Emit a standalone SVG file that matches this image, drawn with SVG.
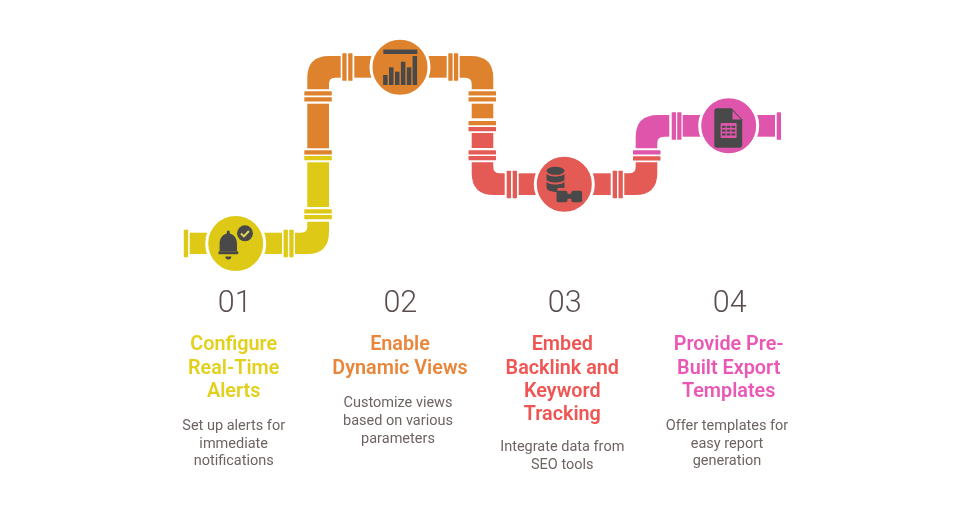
<svg xmlns="http://www.w3.org/2000/svg" width="980" height="517" viewBox="0 0 980 517">
<style>
.y{fill:#DECA14}.o{fill:#DF822E}.r{fill:#E45A55}.p{fill:#DE55AB}
.d{fill:#4A4A4A}
.ring{stroke:#fff;stroke-width:3}
.soft{filter:url(#soft)}
text{font-family:Roboto,"Liberation Sans",sans-serif;text-anchor:middle}
.n{font-size:30.5px;font-weight:300;fill:#5A4E4E}
.t{font-size:19.8px;font-weight:600}
.s{font-size:14.5px;fill:#6E6462}
.ty{fill:#E3D01C}.to{fill:#E9863A}.tr{fill:#EF5552}.tp{fill:#EA58B6}
</style>
<defs>
<filter id="soft" x="-5%" y="-5%" width="110%" height="110%"><feGaussianBlur stdDeviation="0.35"/></filter>
<g id="fv"><rect x="0" y="0" width="4.3" height="27.5" rx=".6"/></g>
<g id="fh"><rect x="0" y="0" width="27.5" height="4.3" rx=".6"/></g>
</defs>
<g id="connectors" class="soft">
<g class="y">
<use href="#fv" x="183.8" y="229.7"/>
<rect x="189.7" y="232.7" width="30" height="21.3"/>
<rect x="250" y="232.7" width="32" height="21.3"/>
<use href="#fv" x="283.6" y="229.7"/>
<use href="#fv" x="289.3" y="229.7"/>
<path d="M295 232.7H301Q307.3 232.7 307.3 227V221.7H329V232Q329 254 307 254H295Z"/>
<use href="#fh" x="304.3" y="215"/>
<use href="#fh" x="304.3" y="209.3"/>
<rect x="307.3" y="162.3" width="21.7" height="44.7"/>
<use href="#fh" x="304.3" y="155.9"/>
</g>
<g class="o">
<use href="#fh" x="304.3" y="150.3"/>
<rect x="307.3" y="103.7" width="21.7" height="44.6"/>
<use href="#fh" x="304.3" y="97.3"/>
<use href="#fh" x="304.3" y="91.3"/>
<path d="M340.7 56H329Q307.3 56 307.3 78V89.3H329V84Q329 77.7 335 77.7H340.7Z"/>
<use href="#fv" x="342.3" y="53.3"/>
<use href="#fv" x="348.2" y="53.3"/>
<rect x="354.3" y="56" width="30" height="21.7"/>
<rect x="415" y="56" width="31.7" height="21.7"/>
<use href="#fv" x="448.3" y="53.3"/>
<use href="#fv" x="453.9" y="53.3"/>
<path d="M459.7 56H471Q493.3 56 493.3 78V89.3H471.7V84Q471.7 77.7 465 77.7H459.7Z"/>
<use href="#fh" x="468.5" y="91.3"/>
<use href="#fh" x="468.5" y="97.3"/>
<rect x="471.7" y="103.7" width="21.6" height="14.6"/>
<use href="#fh" x="468.5" y="121"/>
</g>
<g class="r">
<use href="#fh" x="468.5" y="126.9"/>
<rect x="471.7" y="133" width="21.6" height="15"/>
<use href="#fh" x="468.5" y="150.3"/>
<use href="#fh" x="468.5" y="155.9"/>
<path d="M471.7 162.3H493.3V167Q493.3 173.3 500 173.3H504.7V195H494Q471.7 195 471.7 173Z"/>
<use href="#fv" x="506.7" y="170.7"/>
<use href="#fv" x="512.7" y="170.7"/>
<rect x="518.7" y="173.3" width="30" height="21.7"/>
<rect x="580" y="173.3" width="30.7" height="21.7"/>
<use href="#fv" x="612.7" y="170.7"/>
<use href="#fv" x="618.5" y="170.7"/>
<path d="M624.3 173.3H629Q635.7 173.3 635.7 167V162.3H657.3V173Q657.3 195 635 195H624.3Z"/>
<use href="#fh" x="633" y="156.3"/>
</g>
<g class="p">
<use href="#fh" x="633" y="150.3"/>
<path d="M669.3 115H658Q635.7 115 635.7 137V148.3H657.3V143Q657.3 136.7 664 136.7H669.3Z"/>
<use href="#fv" x="671.7" y="112.3"/>
<use href="#fv" x="677.2" y="112.3"/>
<rect x="682.7" y="115" width="30" height="21.7"/>
<rect x="745" y="115" width="30" height="21.7"/>
<use href="#fv" x="776.7" y="112.3"/>
</g>
</g>
<g id="node-1" class="soft">
<circle class="y ring" cx="235.7" cy="243.5" r="29"/>
<path class="d" d="M228.3 230.6a1.5 1.5 0 0 1 1.5 1.5v1.3C235.5 234.8 237 240 237 244V251.2H219.6V244C219.6 240 221.1 234.8 226.8 233.4v-1.3a1.5 1.5 0 0 1 1.5-1.5Z"/>
<rect class="d" x="218.3" y="251.2" width="20" height="3" rx="1.2"/>
<path class="d" d="M225.3 256.6h6a3 3 0 0 1-6 0Z"/>
<circle class="d" cx="245" cy="233.3" r="8"/>
<path d="M241 233.5l2.9 2.9 5-5.4" fill="none" stroke="#E4D65A" stroke-width="2"/>
<text class="n" x="234.7" y="312">01</text>
<text class="t ty" x="233.7" y="350">Configure</text>
<text class="t ty" x="233.7" y="373.5">Real-Time</text>
<text class="t ty" x="233.7" y="397">Alerts</text>
<text class="s" x="233.7" y="430">Set up alerts for</text>
<text class="s" x="233.7" y="447.7">immediate</text>
<text class="s" x="233.7" y="465.3">notifications</text>
</g>
<g id="node-2" class="soft">
<circle class="o ring" cx="400" cy="67.3" r="29"/>
<g class="d">
<rect x="383.3" y="49.5" width="34" height="4.5"/>
<rect x="383.1" y="75" width="4.5" height="10"/>
<rect x="389" y="67.3" width="4.5" height="17.7"/>
<rect x="395" y="71.7" width="4.5" height="13.3"/>
<rect x="400.9" y="61.7" width="4.5" height="23.3"/>
<rect x="406.8" y="67.3" width="4.5" height="17.7"/>
<rect x="412.6" y="56" width="4.5" height="29"/>
</g>
<text class="n" x="400.3" y="312">02</text>
<text class="t to" x="400" y="350">Enable</text>
<text class="t to" x="400" y="373.5">Dynamic Views</text>
<text class="s" x="398" y="407">Customize views</text>
<text class="s" x="398" y="425">based on various</text>
<text class="s" x="398" y="442.5">parameters</text>
</g>
<g id="node-3" class="soft">
<circle class="r ring" cx="564.3" cy="184.3" r="29"/>
<g class="d">
<ellipse cx="555.5" cy="170.8" rx="9" ry="4"/>
<path d="M546.5 173.5C548 177.5 563 177.5 564.5 173.5V179.5C563 183.5 548 183.5 546.5 179.5Z"/>
<path d="M546.5 181.5C548 185.5 563 185.5 564.5 181.5V188H557.5V192C552 192 546.5 190.5 546.5 187.5Z"/>
<rect x="556.5" y="190.8" width="11" height="11.4" rx="2"/>
<rect x="571.3" y="190.8" width="10.8" height="11.4" rx="2"/>
<rect x="566" y="193.8" width="7" height="5"/>
</g>
<text class="n" x="564.7" y="312">03</text>
<text class="t tr" x="562.3" y="350">Embed</text>
<text class="t tr" x="562.3" y="373.5">Backlink and</text>
<text class="t tr" x="562.3" y="397">Keyword</text>
<text class="t tr" x="562.3" y="420">Tracking</text>
<text class="s" x="562.3" y="451">Integrate data from</text>
<text class="s" x="562.3" y="468.5">SEO tools</text>
</g>
<g id="node-4" class="soft">
<circle class="p ring" cx="728.7" cy="125.7" r="29"/>
<path class="d" d="M717 108.3H731.5L742.2 119.5V145a2.7 2.7 0 0 1-2.7 2.7H717a2.7 2.7 0 0 1-2.7-2.7V111a2.7 2.7 0 0 1 2.7-2.7Z"/>
<path class="p" d="M732.5 110.5V119.5H741Z"/>
<rect class="p" x="720.6" y="123" width="16" height="15" rx="1"/>
<g class="d">
<rect x="722" y="125.8" width="3.6" height="2.1"/><rect x="726.8" y="125.8" width="3.6" height="2.1"/><rect x="731.6" y="125.8" width="3.6" height="2.1"/>
<rect x="722" y="129.6" width="3.6" height="2.1"/><rect x="726.8" y="129.6" width="3.6" height="2.1"/><rect x="731.6" y="129.6" width="3.6" height="2.1"/>
<rect x="722" y="133.4" width="3.6" height="2.1"/><rect x="726.8" y="133.4" width="3.6" height="2.1"/><rect x="731.6" y="133.4" width="3.6" height="2.1"/>
</g>
<text class="n" x="729.7" y="312">04</text>
<text class="t tp" x="728.7" y="350">Provide Pre-</text>
<text class="t tp" x="728.7" y="373.5">Built Export</text>
<text class="t tp" x="728.7" y="397">Templates</text>
<text class="s" x="727" y="430">Offer templates for</text>
<text class="s" x="727" y="447.7">easy report</text>
<text class="s" x="727" y="465.3">generation</text>
</g>
</svg>
